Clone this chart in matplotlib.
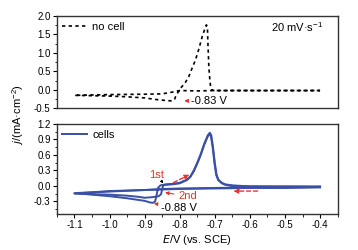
import matplotlib
matplotlib.use("Agg")
import matplotlib.pyplot as plt
from matplotlib.ticker import MultipleLocator

plt.rcParams['font.family'] = ['Liberation Sans', 'DejaVu Sans']
plt.rcParams['font.size'] = 7

# no cell (dotted black), one closed cycle
E_nocell = [-0.40, -0.50, -0.60, -0.70, -0.75, -0.80, -0.82, -0.85, -0.90, -1.00, -1.10,
            -1.00, -0.95, -0.90, -0.87, -0.84, -0.825, -0.815, -0.812, -0.80, -0.785,
            -0.774, -0.765, -0.755, -0.745, -0.736, -0.728, -0.724, -0.721, -0.72,
            -0.717, -0.714, -0.712, -0.708, -0.703, -0.65, -0.55, -0.40]
j_nocell = [-0.02, -0.02, -0.02, -0.02, -0.03, -0.02, -0.06, -0.11, -0.12, -0.13, -0.15,
            -0.17, -0.19, -0.22, -0.26, -0.29, -0.30, -0.27, -0.19, 0.02, 0.18,
            0.36, 0.58, 0.81, 1.12, 1.44, 1.66, 1.76, 1.70, 1.36,
            0.63, 0.25, 0.09, 0.0, -0.02, -0.02, -0.02, -0.02]

# cells (solid blue), 1st cycle
E_cell1 = [-0.40, -0.50, -0.60, -0.70, -0.80, -0.85, -0.90, -1.00, -1.10,
           -1.00, -0.95, -0.90, -0.885, -0.877, -0.870, -0.866, -0.862, -0.855, -0.84,
           -0.82, -0.80, -0.78, -0.77, -0.76, -0.75, -0.74, -0.73, -0.72, -0.714,
           -0.710, -0.705, -0.700, -0.695, -0.690, -0.680, -0.670, -0.650, -0.60, -0.40]
j_cell1 = [-0.03, -0.04, -0.04, -0.05, -0.06, -0.07, -0.08, -0.11, -0.14,
           -0.20, -0.24, -0.29, -0.32, -0.33, -0.30, -0.18, -0.04, 0.01, 0.03,
           0.04, 0.06, 0.12, 0.18, 0.30, 0.45, 0.62, 0.82, 0.98, 1.03,
           0.98, 0.75, 0.45, 0.22, 0.12, 0.06, 0.03, 0.01, -0.01, -0.02]

# cells, 2nd cycle
E_cell2 = [-0.40, -0.50, -0.60, -0.70, -0.80, -0.85, -0.90, -1.00, -1.10,
           -1.00, -0.95, -0.92, -0.90, -0.88, -0.86, -0.853, -0.850, -0.847, -0.84,
           -0.82, -0.80, -0.78, -0.77, -0.76, -0.75, -0.74, -0.73, -0.72, -0.716,
           -0.711, -0.706, -0.701, -0.696, -0.690, -0.680, -0.670, -0.650, -0.60, -0.40]
j_cell2 = [-0.02, -0.03, -0.03, -0.04, -0.05, -0.06, -0.08, -0.10, -0.15,
           -0.17, -0.19, -0.21, -0.23, -0.22, -0.20, -0.16, -0.06, 0.01, 0.02,
           0.03, 0.05, 0.11, 0.17, 0.28, 0.43, 0.60, 0.80, 0.96, 1.01,
           0.96, 0.74, 0.44, 0.21, 0.11, 0.05, 0.02, 0.0, -0.01, -0.01]

blue = '#3a4fa6'
red = '#e8322b'

fig = plt.figure(figsize=(3.58, 2.5), dpi=100)
ax1 = fig.add_axes([0.159, 0.567, 0.784, 0.369])
ax2 = fig.add_axes([0.159, 0.143, 0.784, 0.361])

# ---- top panel
ax1.plot(E_nocell, j_nocell, color='black', lw=1.2, ls=(0, (2, 2)), label='no cell')
ax1.set_xlim(-1.15, -0.35)
ax1.set_ylim(-0.5, 2.0)
ax1.yaxis.set_major_locator(MultipleLocator(0.5))
ax1.yaxis.set_minor_locator(MultipleLocator(0.25))
ax1.set_xticks([])
ax1.set_yticklabels([f'{v:.1f}' for v in ax1.get_yticks()])
ax1.legend(loc='upper left', frameon=False, fontsize=8, handlelength=2.2,
           handletextpad=0.5, borderaxespad=0.2, borderpad=0.3)
ax1.text(0.95, 0.88, '20 mV·s$^{\\mathregular{-1}}$', transform=ax1.transAxes,
         ha='right', va='center', fontsize=8)
ax1.annotate('', xy=(-0.795, -0.30), xytext=(-0.77, -0.30),
             arrowprops=dict(arrowstyle='-|>', color=red, lw=0.9, mutation_scale=5))
ax1.text(-0.768, -0.30, '-0.83 V', ha='left', va='center', fontsize=8)

# ---- bottom panel
ax2.plot(E_cell1, j_cell1, color=blue, lw=1.4, label='cells')
ax2.plot(E_cell2, j_cell2, color=blue, lw=1.4)
ax2.set_xlim(-1.15, -0.35)
ax2.set_ylim(-0.55, 1.2)
ax2.xaxis.set_major_locator(MultipleLocator(0.1))
ax2.xaxis.set_minor_locator(MultipleLocator(0.05))
ax2.yaxis.set_major_locator(MultipleLocator(0.3))
ax2.yaxis.set_minor_locator(MultipleLocator(0.15))
ax2.legend(loc='upper left', frameon=False, fontsize=8, handlelength=2.2,
           handletextpad=0.5, borderaxespad=0.2, borderpad=0.3)

ax2.annotate('', xy=(-0.765, 0.24), xytext=(-0.825, 0.04),
             arrowprops=dict(arrowstyle='-|>', color=red, lw=1.0, ls=(0, (3, 2)),
                             mutation_scale=7))
ax2.annotate('', xy=(-0.655, -0.10), xytext=(-0.57, -0.10),
             arrowprops=dict(arrowstyle='-|>', color=red, lw=1.0, ls=(0, (3, 2)),
                             mutation_scale=7))
ax2.annotate('1st', xy=(-0.847, 0.05), xytext=(-0.866, 0.22), color=red, fontsize=8,
             ha='center', va='center',
             arrowprops=dict(arrowstyle='-|>', color='black', lw=0.6, mutation_scale=4,
                             shrinkA=4, shrinkB=0))
ax2.annotate('2nd', xy=(-0.842, -0.13), xytext=(-0.805, -0.2), color=red, fontsize=8,
             ha='left', va='center',
             arrowprops=dict(arrowstyle='-|>', color=red, lw=0.8, mutation_scale=5,
                             shrinkA=1, shrinkB=0))
ax2.annotate('-0.88 V', xy=(-0.874, -0.34), xytext=(-0.852, -0.43), fontsize=8,
             ha='left', va='center',
             arrowprops=dict(arrowstyle='-|>', color=red, lw=0.8, mutation_scale=5,
                             shrinkA=1, shrinkB=0))

for ax in (ax1, ax2):
    ax.tick_params(which='major', direction='out', length=3, width=0.8, pad=1.5)
    ax.tick_params(which='minor', direction='out', length=1.8, width=0.6)
    for s in ax.spines.values():
        s.set_linewidth(1.0)
        s.set_color('#333333')

ax2.set_xticklabels([f'{v:.1f}' for v in ax2.get_xticks()])
ax2.set_yticklabels([f'{v:.1f}' for v in ax2.get_yticks()])
ax2.set_xlabel('$\\mathit{E}$/V (vs. SCE)', fontsize=8, labelpad=2)
fig.text(0.05, 0.54, '$\\mathit{j}$/(mA·cm$^{\\mathregular{-2}}$)', rotation=90,
         ha='center', va='center', fontsize=8)

fig.savefig('out.png', dpi=100)
